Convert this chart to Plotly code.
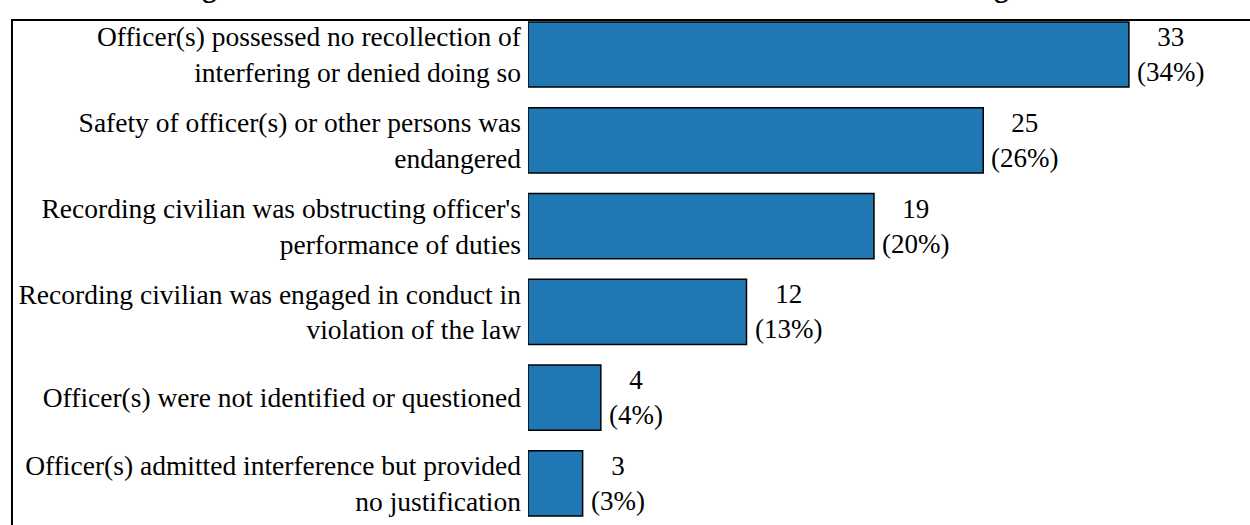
import plotly.graph_objects as go

# Data
reasons = [
    "Officer(s) possessed no recollection of<br>interfering or denied doing so",
    "Safety of officer(s) or other persons was<br>endangered",
    "Recording civilian was obstructing officer's<br>performance of duties",
    "Recording civilian was engaged in conduct in<br>violation of the law",
    "Officer(s) were not identified or questioned",
    "Officer(s) admitted interference but provided<br>no justification",
]
counts = [33, 25, 19, 12, 4, 3]
percents = ["34%", "26%", "20%", "13%", "4%", "3%"]

title_text = "Figure 13: Officer Justifications for Substantiated Interference Allegations"

serif = "Liberation Serif, Times New Roman, serif"

fig = go.Figure()

fig.add_trace(go.Bar(
    y=reasons,
    x=counts,
    orientation='h',
    marker=dict(color='#1f77b4', line=dict(color='black', width=1.5)),
    hoverinfo='x+y',
))

# value labels to the right of each bar
for r, c, p in zip(reasons, counts, percents):
    fig.add_annotation(
        x=c, y=r, xref='x', yref='y',
        text=f"{c}<br>({p})",
        xanchor='left', yanchor='middle', align='center',
        xshift=6, showarrow=False,
        font=dict(family=serif, size=27, color='black'),
    )

fig.update_layout(
    width=1250,
    height=525,
    margin=dict(l=528, r=0, t=20, b=0),
    paper_bgcolor='white',
    plot_bgcolor='white',
    showlegend=False,
    bargap=0.24,
    font=dict(family=serif, size=27, color='black'),
    xaxis=dict(range=[0, 39.65], visible=False, showgrid=False, zeroline=False),
    yaxis=dict(
        range=[5.484, -0.402],
        showgrid=False,
        zeroline=False,
        showline=False,
        ticks='',
        ticklabelstandoff=6,
        tickfont=dict(family=serif, size=27.5, color='black'),
    ),
)

# frame around the whole figure (only top and left edges are visible)
fig.add_shape(
    type='rect', xref='paper', yref='paper',
    x0=-0.7147, x1=1.2, y0=-0.2, y1=1.0,
    line=dict(color='black', width=2),
    layer='above',
)

# title, mostly clipped by the top edge as in the source
fig.add_annotation(
    text=f"<b>{title_text}</b>",
    xref='paper', yref='paper',
    x=0.14, y=1, xanchor='center', yanchor='bottom',
    yshift=15,
    showarrow=False,
    font=dict(family=serif, size=28.5, color='black'),
)

fig.write_html(
    "out.html",
    config={'displayModeBar': False},
    post_script="document.body.style.margin='0';",
)
